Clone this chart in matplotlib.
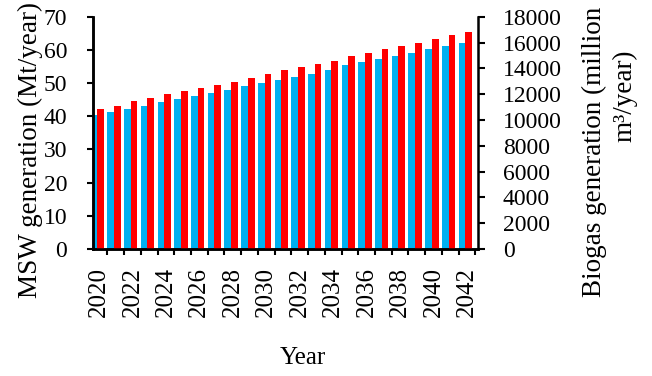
import numpy as np
import matplotlib
matplotlib.use("Agg")
import matplotlib.pyplot as plt

years = list(range(2020, 2043))
msw = [40.3, 41.2, 42.2, 43.2, 44.2, 45.2, 46.1, 47.1, 48.0, 49.0, 49.9, 50.9,
       51.9, 52.8, 53.8, 55.3, 56.3, 57.2, 58.2, 59.2, 60.2, 61.1, 62.0]
biogas = [10850, 11110, 11470, 11730, 11990, 12220, 12450, 12710, 12970, 13230,
          13590, 13840, 14080, 14340, 14590, 14960, 15210, 15470, 15710, 15940,
          16300, 16560, 16820]
year_labels = [str(y) for y in years[::2]]

plt.rcParams['font.family'] = ['Liberation Serif', 'DejaVu Serif']
fs = 17

fig = plt.figure(figsize=(6.52, 3.76), dpi=100)
ax1 = fig.add_axes([0.1426, 0.3378, 0.5905, 0.6178])
ax2 = ax1.twinx()

x = np.arange(len(years))
w = 0.4
ax1.bar(x - w / 2, msw, width=w, color='#00B0F0', zorder=2)
ax2.bar(x + w / 2, biogas, width=w, color='#FF0000', zorder=2)

ax1.set_xlim(-0.26, 22.76)
ax1.set_ylim(0, 70)
ax2.set_ylim(0, 18000)
ax1.set_yticks(range(0, 71, 10))
ax2.set_yticks(range(0, 18001, 2000))

# tick marks on category boundaries, labels every second year
ax1.set_xticks(np.arange(1, 24) - 0.4)
ax1.set_xticklabels([])
ax1.set_xticks(x[::2] + 0.1, minor=True)
ax1.set_xticklabels(year_labels, minor=True, rotation=90, fontsize=18)
ax1.tick_params(axis='x', which='minor', length=0, pad=13)
ax1.tick_params(axis='x', which='major', direction='out', length=4.5, width=1.5)
ax1.tick_params(axis='y', direction='out', length=4.5, width=1.5, labelsize=fs, pad=14)
ax2.tick_params(axis='y', direction='out', length=5, width=1.5, labelsize=fs, pad=13)

for ax in (ax1, ax2):
    ax.spines['top'].set_visible(False)
    for s in ('left', 'right', 'bottom'):
        ax.spines[s].set_linewidth(1.8)
ax1.spines['right'].set_visible(False)

# axis titles
fig.text(30 / 652, 1 - 150 / 376, 'MSW generation (Mt/year)', fontsize=19.5,
         rotation=90, ha='center', va='center')
fig.text(594 / 652, 1 - 152 / 376, 'Biogas generation (million', fontsize=19.5,
         rotation=90, ha='center', va='center')
fig.text(625 / 652, 1 - 96 / 376, 'm³/year)', fontsize=19.5,
         rotation=90, ha='center', va='center')
fig.text(303 / 652, 1 - 358 / 376, 'Year', fontsize=18, ha='center', va='center')

fig.savefig('out.png', dpi=100)
